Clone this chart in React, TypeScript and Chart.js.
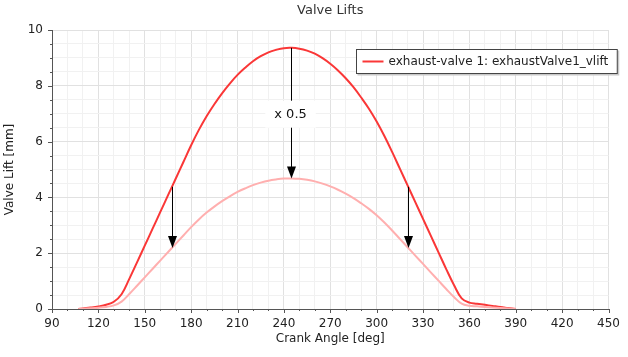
import React, { useEffect, useRef } from "react";
import { Chart, registerables } from "chart.js";

Chart.register(...registerables);

const TITLE = "Valve Lifts";
const X_TITLE = "Crank Angle [deg]";
const Y_TITLE = "Valve Lift [mm]";
const SERIES_LABEL = "exhaust-valve 1: exhaustValve1_vlift";
const SCALE_LABEL = "x 0.5";

const ANGLES = [
  107, 110, 115, 120, 125, 130, 135, 140, 145, 150, 155, 160, 165, 170, 175, 180, 185,
  190, 195, 200, 205, 210, 215, 220, 225, 230, 235, 240, 245, 250, 255, 260, 265,
  270, 275, 280, 285, 290, 295, 300, 305, 310, 315, 320, 325, 330, 335, 340, 345,
  350, 355, 360, 365, 370, 375, 380, 385, 390,
];
const FULL_LIFT = [
  0, 0.02, 0.05, 0.09, 0.15, 0.26, 0.53, 1.08, 1.67, 2.27, 2.87, 3.47, 4.07, 4.67, 5.27, 5.87, 6.42,
  6.91, 7.34, 7.73, 8.08, 8.39, 8.65, 8.88, 9.06, 9.2, 9.29, 9.35, 9.36, 9.33, 9.26, 9.15, 8.99,
  8.79, 8.55, 8.27, 7.95, 7.58, 7.18, 6.72, 6.2, 5.63, 5.03, 4.43, 3.83, 3.23, 2.63, 2.03, 1.43,
  0.86, 0.38, 0.23, 0.19, 0.15, 0.11, 0.07, 0.035, 0,
];
const HALF_LIFT = [
  0, 0.01, 0.025, 0.045, 0.075, 0.13, 0.265, 0.54, 0.835, 1.135, 1.435, 1.735, 2.035, 2.335, 2.635, 2.935, 3.21,
  3.455, 3.67, 3.865, 4.04, 4.195, 4.325, 4.44, 4.53, 4.6, 4.645, 4.675, 4.68, 4.665, 4.63, 4.575, 4.495,
  4.395, 4.275, 4.135, 3.975, 3.79, 3.59, 3.36, 3.1, 2.815, 2.515, 2.215, 1.915, 1.615, 1.315, 1.015, 0.715,
  0.43, 0.19, 0.115, 0.095, 0.075, 0.055, 0.035, 0.0175, 0,
];

const X_MIN = 90;
const X_MAX = 450;
const X_STEP = 10;
const X_LABEL_EVERY = 30;
const Y_MIN = 0;
const Y_MAX = 10;
const Y_STEP = 0.5;
const Y_LABEL_EVERY = 2;

const ARROW_ANGLES = [167.6, 244.3, 320.4];
const ARROW_FROM = [4.38, 9.36, 4.38];
const ARROW_TO = [2.19, 4.68, 2.19];
const SCALE_LABEL_VALUE = 7.0;

const FONT = "'DejaVu Sans', 'Lucida Sans', sans-serif";
const DARK_RED = "rgb(250, 55, 55)";
const LIGHT_RED = "rgb(255, 175, 175)";
const MAJOR_GRID = "#e1e1e1";
const MINOR_GRID = "#f1f1f1";
const AXIS = "#555555";
const TEXT = "#222222";

export default function App() {
  const ref = useRef<HTMLCanvasElement>(null);

  useEffect(() => {
    const canvas = ref.current;
    if (!canvas) return;

    const isMultiple = (v: number, m: number) => Math.abs(v / m - Math.round(v / m)) < 1e-6;

    const overlay = {
      id: "overlay",
      afterDatasetsDraw(chart: any) {
        const { ctx, chartArea, scales } = chart;
        const xs = scales.x;
        const ys = scales.y;
        ctx.save();
        // tick marks
        ctx.strokeStyle = AXIS;
        ctx.lineWidth = 1;
        xs.ticks.forEach((t: any) => {
          const px = Math.round(xs.getPixelForValue(t.value)) + 0.5;
          const len = isMultiple(t.value, X_LABEL_EVERY) ? 4 : 2;
          ctx.beginPath();
          ctx.moveTo(px, chartArea.bottom);
          ctx.lineTo(px, chartArea.bottom + len);
          ctx.stroke();
        });
        ys.ticks.forEach((t: any) => {
          const py = Math.round(ys.getPixelForValue(t.value)) + 0.5;
          const len = isMultiple(t.value, Y_LABEL_EVERY) ? 4 : 2;
          ctx.beginPath();
          ctx.moveTo(chartArea.left - len, py);
          ctx.lineTo(chartArea.left + 1, py);
          ctx.stroke();
        });

        // arrows
        ctx.strokeStyle = "#000";
        ctx.fillStyle = "#000";
        for (let i = 0; i < ARROW_ANGLES.length; i++) {
          const px = Math.round(xs.getPixelForValue(ARROW_ANGLES[i])) + 0.5;
          const y1 = ys.getPixelForValue(ARROW_FROM[i]);
          const y2 = ys.getPixelForValue(ARROW_TO[i]);
          const headL = 12;
          const headW = 4.5;
          ctx.beginPath();
          ctx.moveTo(px, y1);
          ctx.lineTo(px, y2 - headL + 1);
          ctx.stroke();
          ctx.beginPath();
          ctx.moveTo(px - headW, y2 - headL);
          ctx.lineTo(px + headW, y2 - headL);
          ctx.lineTo(px, y2);
          ctx.closePath();
          ctx.fill();
        }

        // scale label
        const cx = xs.getPixelForValue(ARROW_ANGLES[1]);
        const cy = ys.getPixelForValue(SCALE_LABEL_VALUE);
        ctx.font = `13px ${FONT}`;
        const tw = ctx.measureText(SCALE_LABEL).width;
        ctx.fillStyle = "#fff";
        ctx.fillRect(cx - tw / 2 - 9, cy - 13, tw + 18, 27);
        ctx.fillStyle = "#111";
        ctx.textAlign = "center";
        ctx.textBaseline = "middle";
        ctx.fillText(SCALE_LABEL, cx, cy + 1);
        ctx.restore();
      },
      afterDraw(chart: any) {
        const { ctx, chartArea } = chart;
        ctx.save();
        // title
        ctx.font = `13px ${FONT}`;
        ctx.fillStyle = "#333";
        ctx.textAlign = "center";
        ctx.textBaseline = "middle";
        ctx.fillText(TITLE, (chartArea.left + chartArea.right) / 2, 11);

        // legend
        ctx.font = `12px ${FONT}`;
        const tw = ctx.measureText(SERIES_LABEL).width;
        const lx = 356.5;
        const ly = 49.5;
        const lh = 24;
        const lw = 32 + tw + 9;
        ctx.fillStyle = "#c8c8c8";
        ctx.fillRect(lx + 1, ly + 1, lw + 1, lh + 1);
        ctx.fillStyle = "#fff";
        ctx.fillRect(lx, ly, lw, lh);
        ctx.strokeStyle = "#444";
        ctx.lineWidth = 1;
        ctx.strokeRect(lx, ly, lw, lh);
        ctx.strokeStyle = DARK_RED;
        ctx.lineWidth = 2;
        ctx.beginPath();
        ctx.moveTo(lx + 6, ly + lh / 2);
        ctx.lineTo(lx + 27, ly + lh / 2);
        ctx.stroke();
        ctx.fillStyle = TEXT;
        ctx.textAlign = "left";
        ctx.textBaseline = "middle";
        ctx.fillText(SERIES_LABEL, lx + 32, ly + lh / 2 + 0.5);
        ctx.restore();
      },
    };

    const chart = new Chart(canvas, {
      type: "line",
      data: {
        datasets: [
          {
            label: "scaled",
            data: ANGLES.map((a, i) => ({ x: a, y: HALF_LIFT[i] })),
            borderColor: LIGHT_RED,
            borderWidth: 2,
            pointRadius: 0,
            tension: 0.4,
            fill: false,
          },
          {
            label: SERIES_LABEL,
            data: ANGLES.map((a, i) => ({ x: a, y: FULL_LIFT[i] })),
            borderColor: DARK_RED,
            borderWidth: 2,
            pointRadius: 0,
            tension: 0.4,
            fill: false,
          },
        ],
      },
      options: {
        responsive: false,
        animation: false,
        devicePixelRatio: 1,
        layout: { padding: { top: 30, right: 14, left: 0, bottom: 0 } },
        plugins: {
          legend: { display: false },
          title: { display: false },
          tooltip: { enabled: false },
        },
        scales: {
          x: {
            type: "linear",
            min: X_MIN,
            max: X_MAX,
            afterFit: (s: any) => {
              s.height = 48;
            },
            ticks: {
              stepSize: X_STEP,
              autoSkip: false,
              maxRotation: 0,
              padding: 8,
              color: TEXT,
              font: { family: FONT, size: 12 },
              callback: (v: any) => (isMultiple(Number(v), X_LABEL_EVERY) ? String(v) : ""),
            },
            grid: {
              drawTicks: false,
              color: (c: any) => (isMultiple(c.tick.value, X_LABEL_EVERY) ? MAJOR_GRID : MINOR_GRID),
            },
            border: { display: true, color: AXIS, width: 1 },
            title: {
              display: true,
              text: X_TITLE,
              color: TEXT,
              font: { family: FONT, size: 12 },
              padding: { top: 0, bottom: 11 },
            },
          },
          y: {
            type: "linear",
            min: Y_MIN,
            max: Y_MAX,
            afterFit: (s: any) => {
              s.width = 52;
            },
            ticks: {
              stepSize: Y_STEP,
              autoSkip: false,
              padding: 9,
              color: TEXT,
              font: { family: FONT, size: 12 },
              callback: (v: any) => (isMultiple(Number(v), Y_LABEL_EVERY) ? String(v) : ""),
            },
            grid: {
              drawTicks: false,
              color: (c: any) => (isMultiple(c.tick.value, Y_LABEL_EVERY) ? MAJOR_GRID : MINOR_GRID),
            },
            border: { display: true, color: AXIS, width: 1 },
            title: {
              display: true,
              text: Y_TITLE,
              color: TEXT,
              font: { family: FONT, size: 12 },
              padding: { top: 3, bottom: 0 },
            },
          },
        },
      },
      plugins: [overlay],
    });

    return () => chart.destroy();
  }, []);

  return (
    <div style={{ position: "fixed", left: 0, top: 0, width: 628, height: 357, background: "#fff" }}>
      <canvas ref={ref} width={628} height={357} style={{ display: "block", width: 628, height: 357 }} />
    </div>
  );
}
